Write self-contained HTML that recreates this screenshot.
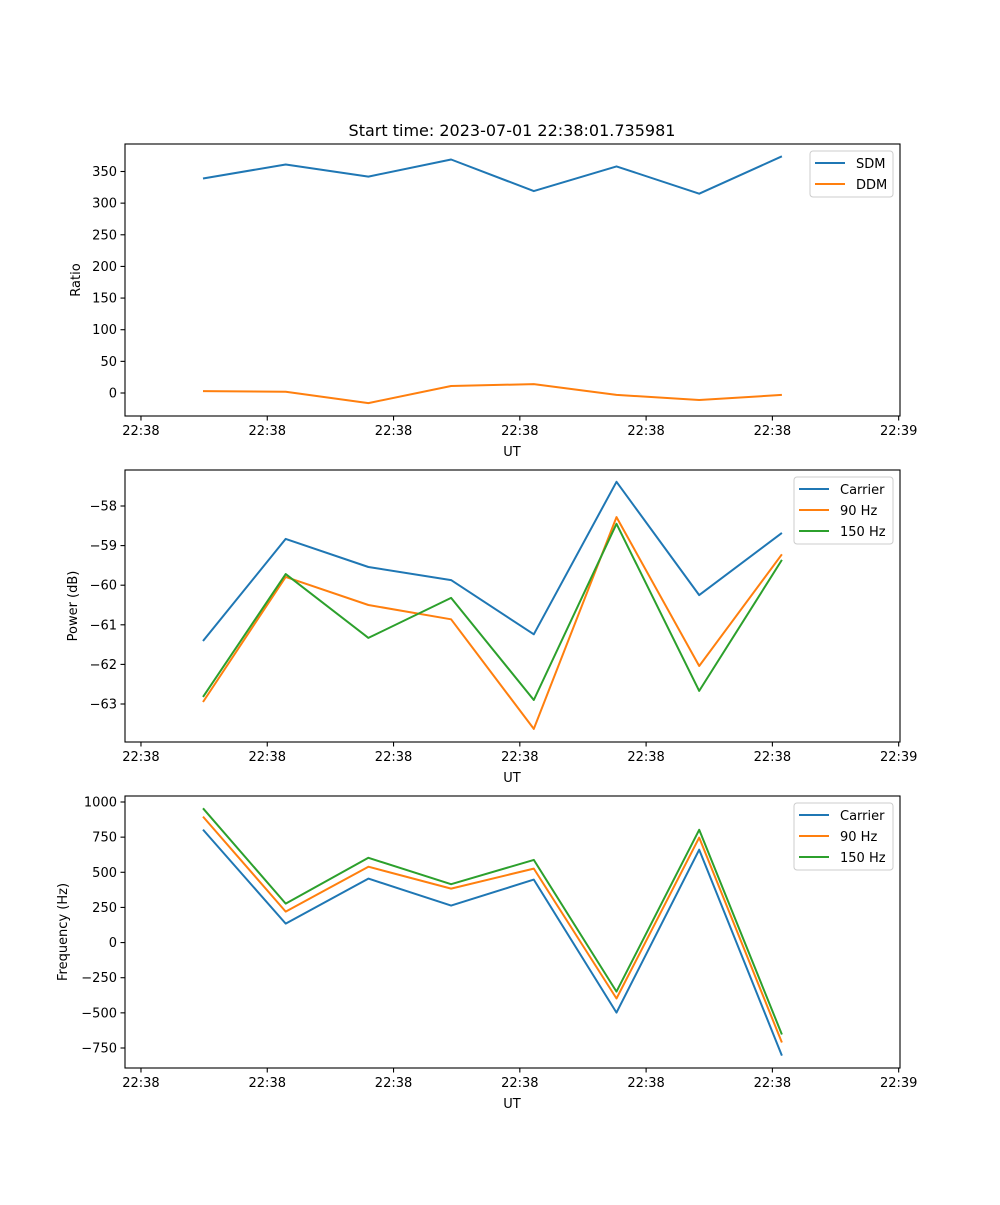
<!DOCTYPE html>
<html><head><meta charset="utf-8"><style>
body{margin:0;background:#fff}
svg text{font-family:"DejaVu Sans","Liberation Sans",sans-serif;fill:#000}
</style></head><body>
<svg id="fig" width="1000" height="1200" xmlns="http://www.w3.org/2000/svg">
<rect width="1000" height="1200" fill="#fff"/>
<text x="512" y="136" font-size="16" text-anchor="middle">Start time: 2023-07-01 22:38:01.735981</text>
</svg>
<script>
const xIndex=[0,1,2,3,4,5,6,7];
const xTickPos=[-0.75,0.777,2.304,3.831,5.358,6.885,8.412];
const xTickLabels=["22:38","22:38","22:38","22:38","22:38","22:38","22:39"];
const sdm=[339,361,342,369,319,358,315,374];
const ddm=[3,2,-16,11,14,-3,-11,-3];
const pCarrier=[-61.41,-58.83,-59.54,-59.87,-61.24,-57.39,-60.25,-58.68];
const p90=[-62.95,-59.79,-60.5,-60.86,-63.63,-58.28,-62.04,-59.22];
const p150=[-62.82,-59.72,-61.33,-60.32,-62.9,-58.45,-62.67,-59.36];
const fCarrier=[804,135,455,263,448,-498,661,-804];
const f90=[896,220,540,384,526,-398,747,-711];
const f150=[955,277,603,415,588,-349,802,-654];
const ratioTicks=[0,50,100,150,200,250,300,350];
const powerTicks=[-63,-62,-61,-60,-59,-58];
const freqTicks=[-750,-500,-250,0,250,500,750,1000];
const colors=["#1f77b4","#ff7f0e","#2ca02c"];
const NS="http://www.w3.org/2000/svg";
const svg=document.getElementById('fig');
function mk(t,a,p){const e=document.createElementNS(NS,t);for(const k in a)e.setAttribute(k,a[k]);(p||svg).appendChild(e);return e;}
const L=125,R=900;
function xs(v){return 203+(v-0)*82.7;}
function panel(name,top,bottom,yv0,yp0,yv1,yp1,ticks,ylabel,series,names,legend){
  const g=mk('g',{});
  
  
  const ys=v=>yp0+(v-yv0)*(yp1-yp0)/(yv1-yv0);
  series.forEach((s,i)=>{
    const pts=s.map((v,j)=>xs(xIndex[j]).toFixed(1)+','+ys(v).toFixed(1)).join(' ');
    const pl=mk('polyline',{points:pts,fill:'none',stroke:colors[i],'stroke-width':2,'stroke-linejoin':'round'},g);
    
    
  });
  const fr=mk('rect',{x:L,y:top,width:R-L,height:bottom-top,fill:'none',stroke:'#000','stroke-width':1.1},g);
  
  
  ticks.forEach(t=>{const y=ys(t);mk('line',{x1:L-4.5,x2:L,y1:y,y2:y,stroke:'#000','stroke-width':1.1},g);
    const tx=mk('text',{x:L-8,y:y+4.5,'font-size':13,'text-anchor':'end'},g);tx.textContent=String(t).replace('-','\u2212');
    
    });
  xTickPos.forEach((t,i)=>{const x=xs(t);mk('line',{x1:x,x2:x,y1:bottom,y2:bottom+4.5,stroke:'#000','stroke-width':1.1},g);
    const tx=mk('text',{x:x,y:bottom+19,'font-size':13,'text-anchor':'middle'},g);tx.textContent=xTickLabels[i];
    
    });
  const xl=mk('text',{x:512,y:bottom+40,'font-size':13,'text-anchor':'middle'},g);xl.textContent='UT';
  
  
  const yl=mk('text',{x:0,y:0,'font-size':13,'text-anchor':'middle',transform:`translate(${legend.yl},${(top+bottom)/2}) rotate(-90)`},g);yl.textContent=ylabel;
  
  
  const lg=mk('g',{},g);
  
  
  mk('rect',{x:legend.x,y:top+7,width:893-legend.x,height:names.length*21+4,rx:3,fill:'#fff',stroke:'#ccc','stroke-width':1},lg);
  names.forEach((n,i)=>{const y=top+19+i*21;
    mk('line',{x1:legend.x+5,x2:legend.x+35,y1:y,y2:y,stroke:colors[i],'stroke-width':2},lg);
    const t=mk('text',{x:legend.x+46,y:y+5,'font-size':13},lg);t.textContent=n;
    
    });
}
panel('ratio',144,416,0,393,350,171.5,ratioTicks,'Ratio',[sdm,ddm],['SDM','DDM'],{x:810,yl:80});
panel('power',470,742,-58,506,-63,704,powerTicks,'Power (dB)',[pCarrier,p90,p150],['Carrier','90 Hz','150 Hz'],{x:794,yl:77});
panel('frequency',796,1068,1000,802,-750,1048,freqTicks,'Frequency (Hz)',[fCarrier,f90,f150],['Carrier','90 Hz','150 Hz'],{x:794,yl:67});
</script>
</body></html>
